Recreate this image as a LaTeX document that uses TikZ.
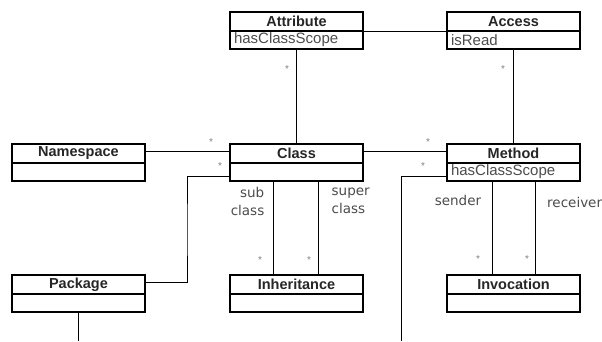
\documentclass[tikz,border=0pt]{standalone}
\usepackage{fontspec}
\setmainfont{Liberation Sans}
\newfontfamily\labelfont{DejaVu Sans}
\usetikzlibrary{calc}
\begin{document}
\begin{tikzpicture}[x=1pt,y=-1pt,
  umltitle/.style={draw, line width=1.1pt, minimum width=133pt, minimum height=19pt,
    inner sep=0pt, outer sep=0pt, anchor=north west, text=black!85,
    font=\fontsize{14.5}{16}\selectfont\bfseries},
  umlattr/.style={draw, line width=1.1pt, minimum height=18pt, inner xsep=4pt, inner ysep=0pt,
    outer sep=0pt, text width=125pt, align=left, anchor=north, text=black!70,
    font=\fontsize{15}{17}\selectfont},
  assoc/.style={draw, line width=0.9pt},
  mult/.style={font=\fontsize{10}{10}\selectfont, text=gray, inner sep=0pt},
  role/.style={font=\labelfont\fontsize{13.5}{18}\selectfont, text=black!70, inner sep=0pt}]
\useasboundingbox (0,0) rectangle (602,341);

% classes
\node[umltitle] (Attribute) at (230,12) {Attribute};
\node[umlattr] (Attributea) at (Attribute.south) {hasClassScope};
\node[umltitle] (Access) at (447,12) {Access};
\node[umlattr] (Accessa) at (Access.south) {isRead};
\node[umltitle] (Namespace) at (12,144) {Namespace};
\node[umlattr] (Namespacea) at (Namespace.south) {};
\node[umltitle] (Class) at (230,144) {Class};
\node[umlattr] (Classa) at (Class.south) {};
\node[umltitle] (Method) at (447,144) {Method};
\node[umlattr] (Methoda) at (Method.south) {hasClassScope};
\node[umltitle] (Package) at (12,275) {Package};
\node[umlattr] (Packagea) at (Package.south) {};
\node[umltitle] (Inheritance) at (230,275) {Inheritance};
\node[umlattr] (Inheritancea) at (Inheritance.south) {};
\node[umltitle] (Invocation) at (447,275) {Invocation};
\node[umlattr] (Invocationa) at (Invocation.south) {};

\coordinate (pkgbend) at (187,230);
\coordinate (pkgend) at (78.5,341);
\coordinate (methend) at (401,341);

% connectors
\draw[assoc] (Attribute.south east) -- (Access.south west);
\draw[assoc] (Attributea.south) -- (Class.north);
\draw[assoc] (Accessa.south) -- (Method.north);
\draw[assoc] ($(Namespace.north east)+(0,7)$) -- ($(Class.north west)+(0,7)$);
\draw[assoc] ($(Class.north east)+(0,7)$) -- ($(Method.north west)+(0,7)$);
\draw[assoc] ($(Class.north west)+(0,32)$) -| (pkgbend) |- ($(Package.north east)+(0,7)$);
\draw[assoc] ($(Method.north west)+(0,32)$) -| (methend);
\draw[assoc] (Packagea.south) -- (pkgend);
\draw[assoc] ($(Classa.south west)+(43,0)$) -- ($(Inheritance.north west)+(43,0)$);
\draw[assoc] ($(Classa.south west)+(88,0)$) -- ($(Inheritance.north west)+(88,0)$);
\draw[assoc] ($(Methoda.south west)+(45,0)$) -- ($(Invocation.north west)+(45,0)$);
\draw[assoc] ($(Methoda.south west)+(88,0)$) -- ($(Invocation.north west)+(88,0)$);

% multiplicities
\node[mult] (m1) at (287,69) {*};
\node[mult] (m2) at (503,69) {*};
\node[mult] (m3) at (211,142) {*};
\node[mult] (m4) at (220,166) {*};
\node[mult] (m5) at (428,142) {*};
\node[mult] (m6) at (423,166) {*};
\node[mult] (m7) at (260,260) {*};
\node[mult] (m8) at (309,260) {*};
\node[mult] (m9) at (478,259) {*};
\node[mult] (m10) at (527,259) {*};

% role labels
\node[role, align=right, anchor=east] (lsub) at (264.5,201) {sub\\class};
\node[role, align=left, anchor=west] (lsuper) at (331.5,201) {super\\class};
\node[role] (lsender) at (458,200) {sender};
\node[role, anchor=west] (lreceiver) at (547,202) {receiver};
\end{tikzpicture}
\end{document}
